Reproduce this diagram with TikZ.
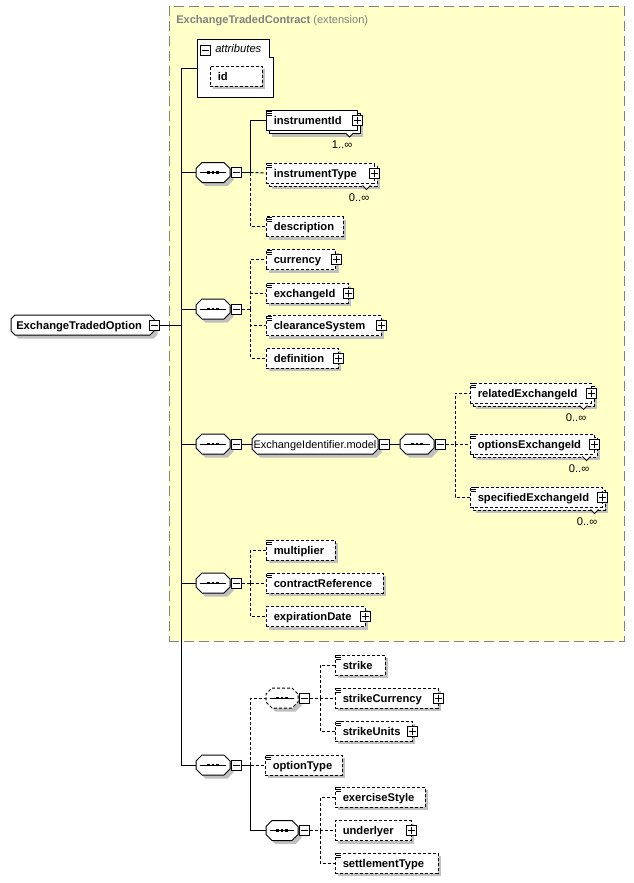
\documentclass[tikz,border=0pt]{standalone}
\usepackage{fontspec}
\setmainfont{Liberation Sans}
\usetikzlibrary{shadows}
\definecolor{yel}{RGB}{255,255,200}
\definecolor{shc}{RGB}{192,192,192}
\definecolor{gtx}{RGB}{128,128,128}
\tikzset{
 x=0.75pt,y=-0.75pt,
 lw/.style={line width=0.75pt},
 dsh/.style={dash pattern=on 2.25pt off 1.5pt},
 shad/.style={drop shadow={shadow xshift=2.6pt,shadow yshift=-2.6pt,fill=shc,opacity=1}},
 elbox/.style={rectangle,draw,fill=white,lw,minimum height=15pt,inner sep=0pt},
 eltext/.style={inner sep=0pt,font=\fontsize{8.4}{10}\selectfont\bfseries,anchor=base west},
 conn/.style={lw},
 oconn/.style={lw,dsh},
 sgn/.style={rectangle,draw,fill=white,lw,minimum size=7.5pt,inner sep=0pt,drop shadow={shadow xshift=0.6pt,shadow yshift=-0.6pt,fill=black,opacity=1}},
 mult/.style={inner sep=0pt,font=\fontsize{8.4}{10}\selectfont,anchor=base east},
}
\newcommand\octp[3]{(#2,{-#3}) -- ({#1-#2},{-#3}) -- (#1,{-#3+#2}) -- (#1,{#3-#2}) -- ({#1-#2},#3) -- (#2,#3) -- (0,{#3-#2}) -- (0,{-#3+#2}) -- cycle}
\newcommand\Oct[6][]{%
 \fill[shc,shift={({#3+3.5},{#4+3.5})}] \octp{#5}{#6}{10};
 \draw[lw,fill=white,#1,shift={(#3,#4)}] \octp{#5}{#6}{10};
 \node[inner sep=0pt,minimum width={#5*0.75pt},minimum height=15pt] (#2) at ({#3+#5/2},#4) {};}
\newcommand\Seq[1]{%
 \draw[lw] ([xshift=3pt]#1.west) -- ([xshift=-3pt]#1.east);
 \foreach \d in {-4.4,-1.1,2.2} \fill ([xshift=\d pt,yshift=-1.1pt]#1.center) rectangle ++(2.2pt,2.2pt);}
\newcommand\Mi[3]{\node[sgn] (#1) at (#2,#3) {}; \draw[lw] ([xshift=1.5pt]#1.west) -- ([xshift=-1.5pt]#1.east);}
\newcommand\Pl[1]{\node[sgn] (#1-p) at (#1.east) {};
 \draw[lw] ([xshift=1.5pt]#1-p.west) -- ([xshift=-1.5pt]#1-p.east);
 \draw[lw] ([yshift=-1.5pt]#1-p.north) -- ([yshift=1.5pt]#1-p.south);}
\newcommand\Ic[1]{\foreach \k in {1,3,5} \draw[line width=0.6pt] ([xshift=1pt,yshift=-\k*0.75pt]#1.north west) -- ++(3.75pt,0);}
\newcommand\El[6][]{%
 \node[elbox,#1,minimum width={(#5-#3)*0.75pt}] (#2) at ({(#3+#5)/2},#4) {};
 \node[eltext] (#2-t) at ([xshift=6pt,yshift=-3pt]#2.west) {#6};}
\newcommand\Bk[5][]{%
 \node[elbox,shad,#1,minimum width={(#5-#3)*0.75pt}] (#2) at ({(#3+#5)/2+3},{#4+3}) {};}
\newcommand\Mul[2]{%
 \draw[lw,fill=white] ([xshift=-9pt,yshift=-1.5pt]#1.south east) -- ++(3pt,-3pt) -- ++(3pt,3pt);
 \node[mult] (#1-n) at ([xshift=-3.75pt,yshift=-13.3pt]#1.south east) {#2};}
\begin{document}
\begin{tikzpicture}
\useasboundingbox (0,0) rectangle (634,883);
% extension area
\node[draw=gtx,fill=yel,line width=1.1pt,dash pattern=on 7.5pt off 3.75pt,minimum width={455*0.75pt},minimum height={635*0.75pt},inner sep=0pt,anchor=north west] (ext) at (168.5,5.5) {};
\node[anchor=base west,text=gtx,inner sep=0pt,font=\fontsize{8.3}{10}\selectfont] (extlbl) at (176,23) {\textbf{ExchangeTradedContract} (extension)};
% attributes
\draw[lw,fill=white] (197,39) -- (269,39) -- (269,57) -- (273,57) -- (273,97) -- (197,97) -- cycle;
\node[inner sep=0pt,minimum width={76*0.75pt},minimum height={58*0.75pt}] (attrs) at (235,68) {};
\Mi{attrs-m}{205.5}{50}
\node[anchor=base west,inner sep=0pt,font=\fontsize{8.4}{10}\selectfont\itshape] (attrs-t) at (215,52.5) {attributes};
\El[dsh,shad]{id}{210}{76}{262}{id}
% root
\Oct{eto}{11}{325}{143}{4}
\node[eltext] (eto-t) at (16,329) {ExchangeTradedOption};
\Mi{eto-m}{154}{325}
\coordinate (j0) at (181.5,325);
% sequence 1
\Oct{s1}{196}{172.5}{34}{6}\Seq{s1}\Mi{s1-m}{236}{172.5}
\coordinate (j1) at (250.5,172.5);
\Bk{instrumentId-b}{266}{120.5}{357}
\El{instrumentId}{266}{120.5}{357}{instrumentId}\Ic{instrumentId}\Pl{instrumentId}\Mul{instrumentId}{1..∞}
\Bk[dsh]{instrumentType-b}{266}{173}{374}
\El[dsh]{instrumentType}{266}{173}{374}{instrumentType}\Ic{instrumentType}\Pl{instrumentType}\Mul{instrumentType}{0..∞}
\El[dsh,shad]{description}{266}{226.5}{343}{description}\Ic{description}
% sequence 2
\Oct{s2}{196}{309}{34}{6}\Seq{s2}\Mi{s2-m}{236}{309}
\coordinate (j2) at (250.5,309);
\El[dsh,shad]{currency}{266}{259.5}{335.5}{currency}\Ic{currency}\Pl{currency}
\El[dsh,shad]{exchangeId}{266}{293}{348}{exchangeId}\Ic{exchangeId}\Pl{exchangeId}
\El[dsh,shad]{clearanceSystem}{266}{325.5}{381}{clearanceSystem}\Ic{clearanceSystem}\Pl{clearanceSystem}
\El[dsh,shad]{definition}{266}{358}{338}{definition}\Pl{definition}
% sequence 3
\Oct{s3}{196}{444}{34}{6}\Seq{s3}\Mi{s3-m}{236}{444}
\Oct{eim}{252}{444}{126}{5}
\node[inner sep=0pt,anchor=base,font=\fontsize{8.2}{10}\selectfont] (eim-t) at (315,448) {ExchangeIdentifier.model};
\Mi{eim-m}{384.5}{444}
\Oct{s3b}{400}{444}{34}{6}\Seq{s3b}\Mi{s3b-m}{440.5}{444}
\coordinate (j3) at (455,444);
\Bk[dsh]{relatedExchangeId-b}{470}{393}{591}
\El[dsh]{relatedExchangeId}{470}{393}{591}{relatedExchangeId}\Ic{relatedExchangeId}\Pl{relatedExchangeId}\Mul{relatedExchangeId}{0..∞}
\Bk[dsh]{optionsExchangeId-b}{470}{444}{594}
\El[dsh]{optionsExchangeId}{470}{444}{594}{optionsExchangeId}\Ic{optionsExchangeId}\Pl{optionsExchangeId}\Mul{optionsExchangeId}{0..∞}
\Bk[dsh]{specifiedExchangeId-b}{470}{497}{602}
\El[dsh]{specifiedExchangeId}{470}{497}{602}{specifiedExchangeId}\Ic{specifiedExchangeId}\Pl{specifiedExchangeId}\Mul{specifiedExchangeId}{0..∞}
% sequence 4
\Oct{s4}{196}{583}{34}{6}\Seq{s4}\Mi{s4-m}{236}{583}
\coordinate (j4) at (250.5,583);
\El[dsh,shad]{multiplier}{266}{550}{335}{multiplier}\Ic{multiplier}
\El[dsh,shad]{contractReference}{266}{583}{383}{contractReference}\Ic{contractReference}
\El[dsh,shad]{expirationDate}{266}{616.5}{365}{expirationDate}\Pl{expirationDate}
% sequence 5 (option part)
\Oct{s5}{196}{765}{34}{6}\Seq{s5}\Mi{s5-m}{236}{765}
\coordinate (j5) at (250.5,765);
\Oct[dsh]{s6}{266}{698}{32}{6}\Seq{s6}\Mi{s6-m}{304.5}{698}
\coordinate (j6) at (320,698);
\Oct{s7}{266}{830.5}{32}{6}\Seq{s7}\Mi{s7-m}{304.5}{830.5}
\coordinate (j7) at (320,830.5);
\El[dsh,shad]{strike}{335}{665}{385}{strike}\Ic{strike}
\El[dsh,shad]{strikeCurrency}{335}{698}{438}{strikeCurrency}\Ic{strikeCurrency}\Pl{strikeCurrency}
\El[dsh,shad]{strikeUnits}{335}{731}{412}{strikeUnits}\Ic{strikeUnits}\Pl{strikeUnits}
\El[dsh,shad]{optionType}{265}{765}{342}{optionType}\Ic{optionType}
\El[dsh,shad]{exerciseStyle}{335}{797}{425}{exerciseStyle}\Ic{exerciseStyle}
\El[dsh,shad]{underlyer}{335}{830.5}{411}{underlyer}\Pl{underlyer}
\El[dsh,shad]{settlementType}{335}{863}{438}{settlementType}\Ic{settlementType}
% connectors: trunk
\draw[conn] (eto-m.east) -- (j0);
\draw[conn] (attrs.west) -| (j0);
\draw[conn] (j0) |- (s5.west);
\draw[conn] (j0 |- s1.west) -- (s1.west);
\draw[conn] (j0 |- s2.west) -- (s2.west);
\draw[conn] (j0 |- s3.west) -- (s3.west);
\draw[conn] (j0 |- s4.west) -- (s4.west);
% seq 1
\draw[conn] (s1-m.east) -- (j1);
\draw[conn] (j1) |- (instrumentId.west);
\draw[oconn] (j1) -- (instrumentType.west);
\draw[oconn] (j1) |- (description.west);
% seq 2
\draw[oconn] (s2-m.east) -- (j2);
\draw[oconn] (j2) |- (currency.west);
\draw[oconn] (j2) |- (exchangeId.west);
\draw[oconn] (j2) |- (clearanceSystem.west);
\draw[oconn] (j2) |- (definition.west);
% seq 3
\draw[conn] (s3-m.east) -- (eim.west);
\draw[conn] (eim-m.east) -- (s3b.west);
\draw[oconn] (s3b-m.east) -- (j3);
\draw[oconn] (j3) |- (relatedExchangeId.west);
\draw[oconn] (j3) -- (optionsExchangeId.west);
\draw[oconn] (j3) |- (specifiedExchangeId.west);
% seq 4
\draw[oconn] (s4-m.east) -- (j4);
\draw[oconn] (j4) |- (multiplier.west);
\draw[oconn] (j4) -- (contractReference.west);
\draw[oconn] (j4) |- (expirationDate.west);
% seq 5
\draw[conn] (s5-m.east) -- (j5);
\draw[oconn] (j5) |- (s6.west);
\draw[oconn] (j5) -- (optionType.west);
\draw[conn] (j5) |- (s7.west);
\draw[oconn] (s6-m.east) -- (j6);
\draw[oconn] (j6) |- (strike.west);
\draw[oconn] (j6) -- (strikeCurrency.west);
\draw[oconn] (j6) |- (strikeUnits.west);
\draw[oconn] (s7-m.east) -- (j7);
\draw[oconn] (j7) |- (exerciseStyle.west);
\draw[oconn] (j7) -- (underlyer.west);
\draw[oconn] (j7) |- (settlementType.west);
\end{tikzpicture}
\end{document}
